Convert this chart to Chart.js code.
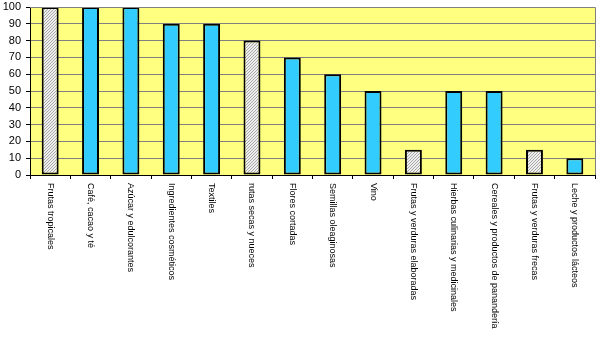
<!DOCTYPE html>
<html>
<head>
<meta charset="utf-8">
<script src="https://cdn.jsdelivr.net/npm/chart.js@4"></script>
<style>
  body { margin: 0; background: #fff; }
  #grafico { display: block; }
</style>
</head>
<body>
<canvas id="grafico" width="599" height="339"></canvas>
<script>
// datos
const categorias = [
  "Frutas tropicales", "Café, cacao y té", "Azúcar y edulcorantes",
  "Ingredientes cosméticos", "Textiles", "rutas secas y nueces",
  "Flores cortadas", "Semillas oleaginosas", "Vino",
  "Frutas y verduras elaboradas", "Hierbas culinarias y medicinales",
  "Cereales y productos de panandería", "Frutas y verduras frecas",
  "Leche y productos lácteos"
];
const valores = [100, 100, 100, 90, 90, 80, 70, 60, 50, 15, 50, 50, 15, 10];
// barras rayadas (grises) vs. azules
const rayadas = [true, false, false, false, false, true, false, false, false, true, false, false, true, false];
const marcasY = [0, 10, 20, 30, 40, 50, 60, 70, 80, 90, 100];

// patrón rayado
const pc = document.createElement("canvas");
pc.width = 3; pc.height = 3;
const pctx = pc.getContext("2d");
pctx.fillStyle = "#eeeeee";
pctx.fillRect(0, 0, 3, 3);
pctx.fillStyle = "#a8a8a8";
pctx.fillRect(0, 2, 1, 1);
pctx.fillRect(1, 1, 1, 1);
pctx.fillRect(2, 0, 1, 1);
const ctx = document.getElementById("grafico").getContext("2d");
const rayado = ctx.createPattern(pc, "repeat");

const fondo = {
  id: "fondo",
  beforeDraw(chart) {
    const a = chart.chartArea, c = chart.ctx;
    c.save();
    c.fillStyle = "#ffff80";
    c.fillRect(a.left, a.top, a.right - a.left, a.bottom - a.top);
    c.restore();
  },
  afterDraw(chart) {
    const a = chart.chartArea, c = chart.ctx;
    c.save();
    c.strokeStyle = "#808080";
    c.lineWidth = 1;
    c.beginPath();
    c.moveTo(a.left, a.top + 0.5);
    c.lineTo(a.right + 0.5, a.top + 0.5);
    c.lineTo(a.right + 0.5, a.bottom);
    c.stroke();
    // etiquetas del eje x, giradas hacia abajo
    const x = chart.scales.x;
    c.fillStyle = "#000";
    c.font = "9px 'Liberation Sans', Arial, sans-serif";
    c.textAlign = "left";
    c.textBaseline = "middle";
    categorias.forEach((t, i) => {
      c.save();
      c.translate(x.getPixelForValue(i), a.bottom + 8);
      c.rotate(Math.PI / 2);
      c.fillText(t, 0, 0);
      c.restore();
    });
    c.restore();
  }
};

new Chart(ctx, {
  type: "bar",
  data: {
    labels: categorias,
    datasets: [{
      data: valores,
      backgroundColor: rayadas.map(r => r ? rayado : "#33ccff"),
      borderColor: "#000",
      borderWidth: 2,
      borderSkipped: false,
      categoryPercentage: 1,
      barPercentage: 0.42
    }]
  },
  options: {
    responsive: false,
    animation: false,
    layout: { padding: { top: 7, right: 4, left: 0, bottom: 0 } },
    plugins: { legend: { display: false }, tooltip: { enabled: false } },
    scales: {
      x: {
        grid: { offset: true, drawOnChartArea: false, drawTicks: true, tickLength: 4, tickColor: "#000" },
        border: { color: "#000", width: 1 },
        ticks: { display: false },
        afterFit(s) { s.height = 164; }
      },
      y: {
        min: 0, max: 100,
        afterBuildTicks(s) { s.ticks = marcasY.map(v => ({ value: v })); },
        grid: { color: "#808080", tickLength: 4, tickColor: "#000" },
        border: { color: "#000", width: 1 },
        ticks: {
          color: "#000",
          padding: 5,
          font: { family: "'Liberation Sans', Arial, sans-serif", size: 11 }
        },
        afterFit(s) { s.width = 30; s.paddingTop = 0; s.paddingBottom = 0; }
      }
    }
  },
  plugins: [fondo]
});
</script>
</body>
</html>
